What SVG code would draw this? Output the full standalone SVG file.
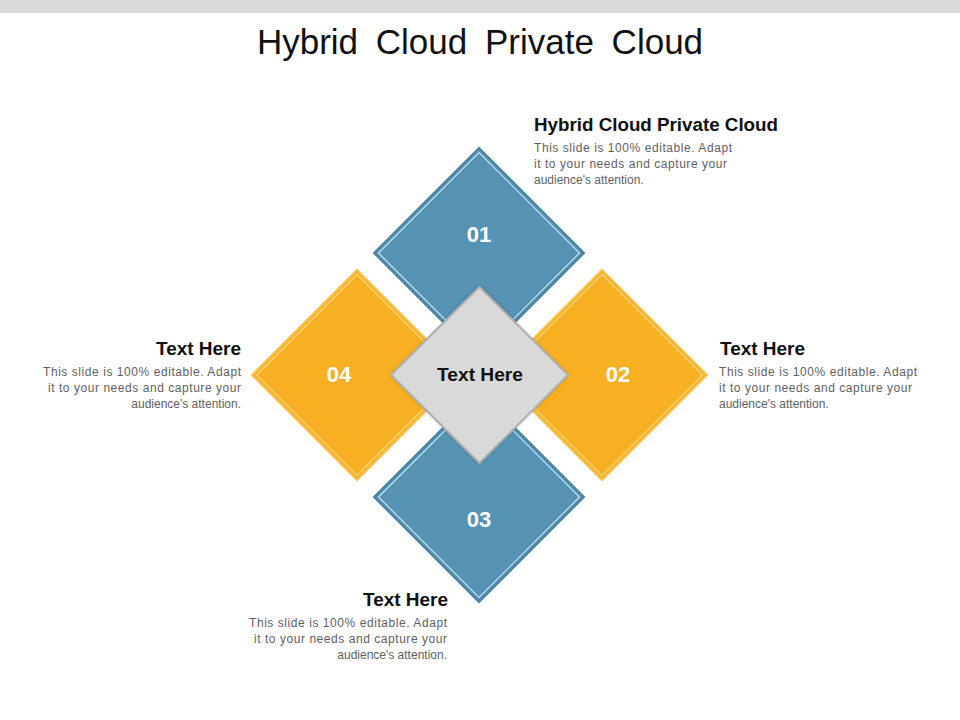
<svg xmlns="http://www.w3.org/2000/svg" width="960" height="720" viewBox="0 0 960 720">
<defs>
<style>
.blue{fill:#5592b3;stroke:#4b83a3;stroke-width:2}
.blueIn{fill:none;stroke:#c4e1ef;stroke-width:1.2}
.orange{fill:#f8b023;stroke:#f7c24e;stroke-width:2}
.orangeIn{fill:none;stroke:#fbd57e;stroke-width:1.2}
.gray{fill:#d9d9d9;stroke:#afafaf;stroke-width:2}
.num{font-family:"Liberation Sans",Arial,sans-serif;font-weight:bold;font-size:22px;fill:#ffffff;text-anchor:middle}
.head{font-family:"Liberation Sans",Arial,sans-serif;font-weight:bold;font-size:18px;fill:#111111}
.body{font-family:"Liberation Sans",Arial,sans-serif;font-size:12px;fill:#5f5f5f}
.title{font-family:"Liberation Sans",Arial,sans-serif;font-size:35px;fill:#111111;text-anchor:middle;word-spacing:8px}
</style>
<filter id="sh" x="-20%" y="-20%" width="140%" height="140%">
<feGaussianBlur in="SourceAlpha" stdDeviation="1.5"/>
<feComponentTransfer><feFuncA type="linear" slope="0.25"/></feComponentTransfer>
<feMerge><feMergeNode/><feMergeNode in="SourceGraphic"/></feMerge>
</filter>
</defs>
<rect x="0" y="0" width="960" height="720" fill="#ffffff"/>
<rect x="0" y="0" width="960" height="13" fill="#d9d9d9"/>
<text class="title" x="480" y="54">Hybrid Cloud Private Cloud</text>
<g id="connectors"></g>
<g id="node01">
<polygon class="blue" points="479,148 584,253 479,358 374,253"/>
<polygon class="blueIn" points="479,152.5 579.5,253 479,353.5 378.5,253"/>
<text class="num" x="479" y="242">01</text>
</g>
<g id="node03">
<polygon class="blue" points="479,392 584,497 479,602 374,497"/>
<polygon class="blueIn" points="479,396.5 579.5,497 479,597.5 378.5,497"/>
<text class="num" x="479" y="527">03</text>
</g>
<g id="node04">
<polygon class="orange" points="357,270 462,375 357,480 252,375"/>
<polygon class="orangeIn" points="357,274.5 457.5,375 357,475.5 256.5,375"/>
<text class="num" x="339" y="382">04</text>
</g>
<g id="node02">
<polygon class="orange" points="602,270 707,375 602,480 497,375"/>
<polygon class="orangeIn" points="602,274.5 702.5,375 602,475.5 501.5,375"/>
<text class="num" x="618" y="382">02</text>
</g>
<g id="center">
<polygon class="gray" filter="url(#sh)" points="479.5,287 568,375 479.5,463 391,375"/>
<text class="head" x="480" y="381" text-anchor="middle" font-size="17" textLength="86" lengthAdjust="spacingAndGlyphs">Text Here</text>
</g>
<g id="text01">
<text class="head" x="534" y="131" font-size="17.5" textLength="244" lengthAdjust="spacingAndGlyphs">Hybrid Cloud Private Cloud</text>
<text class="body" x="534" y="152" textLength="198" lengthAdjust="spacing">This slide is 100% editable. Adapt</text>
<text class="body" x="534" y="168" textLength="193" lengthAdjust="spacing">it to your needs and capture your</text>
<text class="body" x="534" y="184">audience's attention.</text>
</g>
<g id="text02">
<text class="head" x="720" y="355" font-size="17" textLength="85" lengthAdjust="spacingAndGlyphs">Text Here</text>
<text class="body" x="719" y="376" textLength="198" lengthAdjust="spacing">This slide is 100% editable. Adapt</text>
<text class="body" x="719" y="392" textLength="193" lengthAdjust="spacing">it to your needs and capture your</text>
<text class="body" x="719" y="408">audience's attention.</text>
</g>
<g id="text04">
<text class="head" x="241" y="355" text-anchor="end" font-size="17" textLength="85" lengthAdjust="spacingAndGlyphs">Text Here</text>
<text class="body" x="241" y="376" text-anchor="end" textLength="198" lengthAdjust="spacing">This slide is 100% editable. Adapt</text>
<text class="body" x="241" y="392" text-anchor="end" textLength="193" lengthAdjust="spacing">it to your needs and capture your</text>
<text class="body" x="241" y="408" text-anchor="end">audience's attention.</text>
</g>
<g id="text03">
<text class="head" x="448" y="606" text-anchor="end" font-size="17" textLength="85" lengthAdjust="spacingAndGlyphs">Text Here</text>
<text class="body" x="447" y="627" text-anchor="end" textLength="198" lengthAdjust="spacing">This slide is 100% editable. Adapt</text>
<text class="body" x="447" y="643" text-anchor="end" textLength="193" lengthAdjust="spacing">it to your needs and capture your</text>
<text class="body" x="447" y="659" text-anchor="end">audience's attention.</text>
</g>
</svg>
